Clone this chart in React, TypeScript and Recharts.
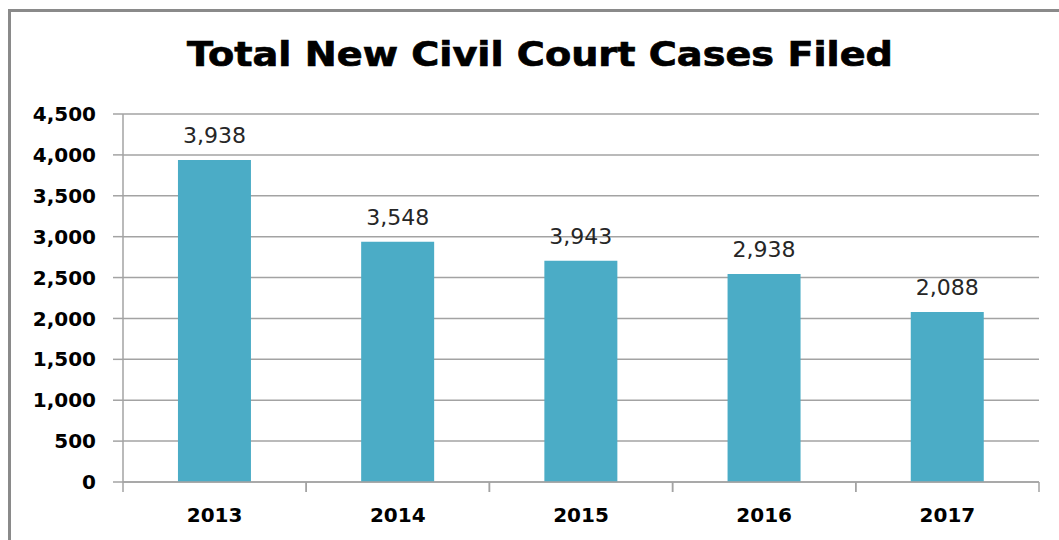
import { BarChart, Bar, XAxis, YAxis, CartesianGrid, LabelList } from "recharts";

const years = ["2013", "2014", "2015", "2016", "2017"];
// bar heights as drawn in the picture
const barValues = [3938, 2938, 2706, 2543, 2080];
// the printed labels above each bar (they don't match the bars in the source)
const labelTexts = ["3,938", "3,548", "3,943", "2,938", "2,088"];
const yTicks = [0, 500, 1000, 1500, 2000, 2500, 3000, 3500, 4000, 4500];

const data = years.map((year, i) => ({ year, cases: barValues[i], label: labelTexts[i] }));

const GRID = "#a3a3a3";
const FONT = "'DejaVu Sans', Verdana, sans-serif";

function fmtNum(v: number): string {
  return v.toLocaleString("en-US");
}

function YearTick(props: any) {
  const { x, y, payload } = props;
  const half = payload?.offset ?? 0;
  return (
    <g>
      <line x1={x - half} x2={x - half} y1={y} y2={y + 10} stroke={GRID} strokeWidth={1.5} />
      <line x1={x + half} x2={x + half} y1={y} y2={y + 10} stroke={GRID} strokeWidth={1.5} />
      <text x={x} y={y} dy={40} textAnchor="middle" fill="#000" fontSize={20} fontWeight="bold" fontFamily={FONT}>
        {payload.value}
      </text>
    </g>
  );
}

export default function App() {
  return (
    <div style={{ position: "absolute", left: 0, top: 0, width: 1059, height: 540, overflow: "hidden", background: "#fff" }}>
      <div
        style={{
          position: "absolute",
          left: 8,
          top: 9,
          width: 1100,
          height: 600,
          border: "3px solid #8a8a8a",
        }}
      />
      <svg width={1059} height={100} style={{ position: "absolute", left: 0, top: 0 }}>
        <text
          x={540}
          y={66}
          textAnchor="middle"
          fontFamily={FONT}
          fontWeight="bold"
          fontSize={33}
          textLength={706}
          lengthAdjust="spacingAndGlyphs"
          fill="#000"
          stroke="#000"
          strokeWidth={0.7}
        >
          Total New Civil Court Cases Filed
        </text>
      </svg>
      <div style={{ position: "absolute", left: 0, top: 0 }}>
        <BarChart
          width={1059}
          height={540}
          data={data}
          margin={{ top: 114, right: 20, bottom: 0, left: 0 }}
          barCategoryGap="30%"
        >
          <CartesianGrid vertical={false} stroke={GRID} strokeWidth={1.5} />
          <XAxis
            dataKey="year"
            height={58}
            axisLine={{ stroke: GRID, strokeWidth: 1.5 }}
            tickLine={false}
            tickSize={0}
            tickMargin={0}
            tick={<YearTick />}
            interval={0}
          />
          <YAxis
            width={123}
            domain={[0, 4500]}
            ticks={yTicks}
            interval={0}
            tickFormatter={fmtNum}
            axisLine={{ stroke: GRID, strokeWidth: 1.5 }}
            tickLine={{ stroke: GRID, strokeWidth: 1.5 }}
            tickSize={10}
            tickMargin={17}
            tick={{ fill: "#000", fontSize: 20, fontWeight: "bold", fontFamily: FONT }}
          />
          <Bar dataKey="cases" fill="#4bacc6" isAnimationActive={false}>
            <LabelList
              dataKey="label"
              position="top"
              offset={17}
              fill="#262626"
              fontSize={22}
              fontFamily={FONT}
            />
          </Bar>
        </BarChart>
      </div>
    </div>
  );
}
